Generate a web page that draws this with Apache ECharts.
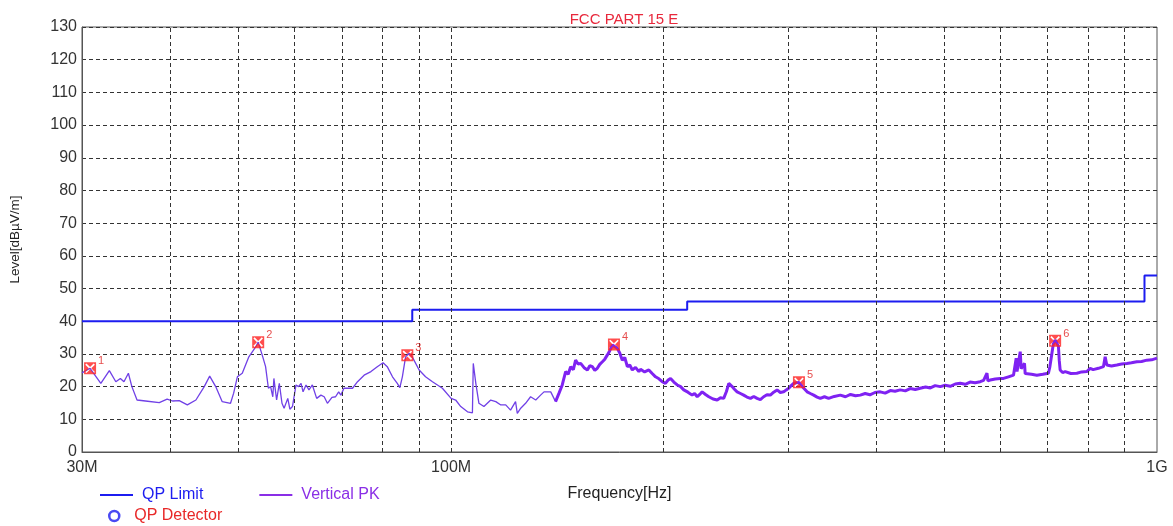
<!DOCTYPE html>
<html>
<head>
<meta charset="utf-8">
<title>FCC PART 15 E</title>
<script src="https://cdn.jsdelivr.net/npm/echarts/dist/echarts.min.js"></script>
<style>
  html, body { margin: 0; padding: 0; background: #fff; }
  #chart { width: 1173px; height: 526px; }
</style>
</head>
<body>
<div id="chart"></div>
<script>
// QP limit (MHz / dBuV/m), stepped
var limitFreq = [30, 88.1, 88.1, 216, 216, 960, 960, 1000]
var limitLevel = [40, 40, 43.5, 43.5, 46, 46, 54, 54]

// vertical peak trace, 30M - 140M (clean part)
var lowFreq = [30.0, 30.8, 31.9, 32.8, 33.5, 34.0, 34.4, 34.9, 35.3, 35.9, 36.9, 38.6, 39.6, 40.3, 41.2, 42.3,
  43.5, 44.7, 45.5, 46.4, 47.4, 48.7, 49.2, 49.8, 50.6, 51.7, 52.9, 53.3, 53.5, 54.1, 54.6, 55.1, 55.5, 55.9,
  56.1, 56.6, 57.1, 57.6, 58.0, 58.7, 59.1, 59.6, 59.9, 60.3, 60.8, 61.3, 61.7, 62.3, 62.9, 63.6, 64.5, 65.4,
  66.1, 66.8, 67.8, 68.6, 69.3, 69.8, 70.5, 72.5, 73.7, 75.3, 77.0, 78.6, 80.1, 81.2, 82.6, 83.9, 84.6, 85.3,
  86.2, 86.7, 87.2, 88.1, 90.1, 92.0, 94.1, 97.2, 100.0, 101.5, 103.2, 105.5, 107.2, 107.5, 108.4, 109.5,
  111.3, 113.8, 115.7, 117.6, 119.5, 121.4, 123.4, 124.1, 125.5, 127.5, 129.6, 131.8, 133.9, 135.4, 138.4, 140.6]
var lowLevel = [24.2, 25.6, 21.0, 24.9, 21.5, 22.5, 21.5, 24.1, 20.0, 15.9, 15.6, 15.1, 16.2, 15.6, 15.7, 14.4,
  15.9, 20.0, 23.2, 20.0, 15.4, 14.9, 18.0, 23.0, 24.1, 29.1, 32.2, 33.6, 33.2, 29.1, 26.1, 19.5, 20.0, 16.9,
  22.5, 15.9, 21.0, 14.9, 13.4, 16.4, 13.1, 13.9, 13.4, 20.5, 20.0, 21.0, 18.4, 20.5, 19.0, 20.5, 16.4, 17.4,
  16.9, 14.9, 16.7, 16.9, 18.4, 17.4, 19.5, 19.5, 21.5, 23.5, 24.6, 26.1, 27.3, 26.1, 23.0, 21.0, 19.7, 23.0,
  29.1, 29.6, 30.2, 29.1, 25.1, 23.0, 21.5, 19.5, 16.4, 15.9, 13.9, 12.3, 12.0, 27.1, 21.0, 14.9,
  13.9, 15.9, 15.4, 14.4, 14.4, 12.8, 15.4, 11.8, 13.4, 14.9, 16.9, 15.9, 17.4, 18.4, 18.4, 15.4]

// vertical peak trace, 140M - 1G (noisy part)
var highFreq = [140.6, 142.2, 143.7, 145.3, 146.5, 147.7, 149.0, 150.1, 151.3, 152.6, 154.3, 156.0, 157.2, 158.5,
  159.8, 161.1, 162.4, 163.8, 165.1, 166.5, 167.8, 169.2, 170.1, 172.0, 173.4, 174.8, 176.2, 177.7, 179.1, 180.6,
  182.5, 184.5, 185.5, 188.0, 190.6, 192.7, 194.8, 197.0, 199.1, 201.2, 203.0, 204.6, 206.8, 209.1, 211.4, 213.6,
  216.5, 219.5, 221.3, 223.2, 225.0, 226.8, 229.3, 231.8, 235.0, 238.2, 240.8, 243.3, 245.5, 247.4, 250.1, 252.0,
  254.2, 257.0, 259.7, 262.5, 265.5, 268.4, 271.3, 274.2, 277.2, 280.2, 283.3, 286.4, 289.6, 292.7, 295.9, 298.4,
  300.8, 303.2, 305.7, 311.0, 312.5, 316.0, 319.4, 322.8, 326.3, 330.0, 333.5, 338.0, 342.6, 349.0, 356.0, 362.0,
  368.0, 374.0, 379.9, 386.0, 392.0, 398.5, 405.5, 412.0, 419.0, 425.5, 432.8, 440.0, 447.0, 454.5, 461.9, 470.0,
  477.5, 485.0, 493.1, 501.0, 509.5, 517.8, 526.4, 535.0, 543.5, 552.5, 561.8, 568.0, 574.3, 576.0, 580.4, 590.0,
  599.7, 606.1, 616.0, 626.2, 629.0, 631.7, 633.5, 636.5, 640.1, 642.0, 644.8, 649.1, 650.5, 652.7, 664.0, 675.8,
  689.0, 701.8, 705.0, 709.8, 713.0, 717.3, 721.0, 725.1, 727.0, 729.1, 735.0, 741.2, 755.0, 769.9, 782.0, 795.4,
  804.1, 812.0, 826.0, 839.7, 844.4, 849.0, 862.0, 877.3, 891.0, 906.2, 920.0, 936.3, 951.0, 967.2, 983.0, 1000]
var highLevel = [15.4, 18.0, 20.5, 24.6, 23.8, 26.1, 25.2, 28.1, 26.9, 27.1, 25.8, 25.1, 26.4, 26.1,
  25.0, 25.6, 26.8, 27.6, 28.4, 29.7, 31.0, 32.7, 33.0, 31.7, 30.2, 28.1, 28.9, 26.1, 26.6, 25.1,
  25.9, 24.6, 25.3, 24.5, 25.1, 24.0, 23.0, 22.4, 21.5, 21.0, 22.0, 22.5, 21.4, 20.5, 20.0, 19.0,
  18.3, 17.4, 17.9, 16.9, 17.6, 18.4, 17.6, 16.9, 16.2, 15.9, 16.6, 16.4, 18.5, 21.0, 20.0, 19.2,
  18.4, 17.9, 17.4, 16.8, 16.4, 17.0, 16.4, 16.0, 16.9, 17.5, 17.4, 18.3, 19.0, 18.2, 18.4, 19.0,
  19.5, 20.3, 21.0, 21.3, 21.0, 19.5, 18.4, 17.9, 17.4, 16.8, 16.4, 16.9, 16.4, 17.0, 17.4, 16.9,
  17.6, 17.2, 17.4, 17.9, 17.5, 18.2, 18.4, 18.0, 18.8, 18.6, 19.0, 18.7, 19.4, 19.1, 19.5, 19.9,
  19.6, 20.3, 20.0, 20.4, 20.1, 20.8, 21.0, 20.7, 21.4, 21.2, 21.5, 21.9, 24.1, 21.8, 22.0, 22.3,
  22.5, 22.5, 23.0, 23.5, 24.0, 28.7, 24.6, 24.1, 30.7, 25.5, 25.1, 27.1, 24.0, 23.5, 23.8, 23.5,
  23.8, 24.1, 26.0, 30.2, 33.0, 34.2, 33.5, 32.2, 28.0, 25.1, 24.3, 24.6, 24.0, 24.1, 24.5, 24.6,
  25.6, 25.2, 25.6, 26.1, 29.1, 26.6, 26.3, 26.6, 26.9, 27.1, 27.3, 27.6, 27.7, 28.1, 28.2, 28.7]

// marked peaks
var peakFreq = [30.8, 53.3, 86.7, 170.1, 311.0, 717.3]
var peakLevel = [25.6, 33.6, 29.6, 32.9, 21.3, 34.0]
var peakNo = ['1', '2', '3', '4', '5', '6']

// vertical grid lines and axis labels
var gridFreqs = [40, 50, 60, 70, 80, 90, 100, 200, 300, 400, 500, 600, 700, 800, 900]
var xLabels = { 30: '30M', 100: '100M', 1000: '1G' }

function zip(a, b) {
  var out = []
  a.forEach(function (v, i) { out.push([v, b[i]]) })
  return out
}

var chart = echarts.init(document.getElementById('chart'))

var fontFam = 'Liberation Sans, Arial, sans-serif'
var gridStyle = { color: '#333', type: [4, 3], width: 1 }
// red square marker with an x cut into it
var xMark = 'path://M0,0 H10 V10 H0 Z M2,1 L1,2 L4,5 L1,8 L2,9 L5,6 L8,9 L9,8 L6,5 L9,2 L8,1 L5,4 Z'

var option = {
  animation: false,
  textStyle: { fontFamily: fontFam },
  title: {
    text: 'FCC PART 15 E',
    left: 619,
    textAlign: 'center',
    top: 7,
    textStyle: { color: '#e8283c', fontSize: 15, fontWeight: 'normal', fontFamily: fontFam }
  },
  grid: {
    left: 81,
    right: 16,
    top: 27,
    bottom: 74,
    show: true,
    borderColor: '#555',
    borderWidth: 1
  },
  legend: [
    {
      left: 100,
      top: 487,
      padding: 0,
      itemWidth: 33,
      itemHeight: 2,
      itemGap: 56,
      icon: 'rect',
      textStyle: { fontSize: 16, fontFamily: fontFam, padding: [0, 0, 0, 4] },
      data: [
        { name: 'QP Limit', textStyle: { color: '#1c1cf0' } },
        { name: 'Vertical PK', textStyle: { color: '#8a2ee6' } }
      ]
    },
    {
      left: 108,
      top: 508,
      padding: 0,
      itemWidth: 10,
      itemHeight: 10,
      textStyle: { fontSize: 16, fontFamily: fontFam, padding: [0, 0, 0, 10] },
      data: [
        {
          name: 'QP Detector',
          icon: 'circle',
          itemStyle: { color: '#fff', borderColor: '#1c1cf0', borderWidth: 2.5 },
          textStyle: { color: '#e82828' }
        }
      ]
    }
  ],
  xAxis: {
    type: 'log',
    logBase: 10,
    min: 30,
    max: 1000,
    name: 'Frequency[Hz]',
    nameLocation: 'middle',
    nameGap: 34,
    nameTextStyle: { color: '#222', fontSize: 16, fontFamily: fontFam },
    axisLine: { lineStyle: { color: '#555' } },
    axisTick: { show: false },
    splitLine: { show: false },
    axisLabel: {
      color: '#333',
      fontSize: 16,
      margin: 8,
      showMinLabel: true,
      showMaxLabel: true,
      formatter: function (v) {
        return xLabels[Math.round(v)] || ''
      }
    }
  },
  yAxis: {
    type: 'value',
    min: 0,
    max: 130,
    interval: 10,
    name: 'Level[dB\u00b5V/m]',
    nameLocation: 'middle',
    nameGap: 60,
    nameTextStyle: { color: '#222', fontSize: 13.5, fontFamily: fontFam },
    axisLine: { show: true, lineStyle: { color: '#555' } },
    axisTick: { show: false },
    axisLabel: { color: '#333', fontSize: 16, margin: 5 },
    splitLine: { show: true, lineStyle: gridStyle }
  },
  series: [
    {
      name: 'QP Limit',
      type: 'line',
      data: zip(limitFreq, limitLevel),
      showSymbol: false,
      color: '#1c1cf0',
      lineStyle: { color: '#1c1cf0', width: 2 },
      z: 3,
      markLine: {
        silent: true,
        symbol: 'none',
        label: { show: false },
        lineStyle: gridStyle,
        data: gridFreqs.map(function (f) { return { xAxis: f } })
      }
    },
    {
      name: 'Vertical PK',
      type: 'line',
      data: zip(lowFreq, lowLevel),
      showSymbol: false,
      color: '#8a2ee6',
      lineStyle: { color: '#7040e6', width: 1.3 },
      z: 4
    },
    {
      name: 'Vertical PK',
      type: 'line',
      data: zip(highFreq, highLevel),
      showSymbol: false,
      color: '#8a2ee6',
      lineStyle: { color: '#7f22f2', width: 3 },
      z: 4
    },
    {
      name: 'QP Detector',
      type: 'scatter',
      data: [],
      symbol: 'emptyCircle',
      color: '#1c1cf0'
    },
    {
      name: 'markers',
      type: 'scatter',
      data: peakFreq.map(function (f, i) { return [f, peakLevel[i], peakNo[i]] }),
      symbol: xMark,
      symbolSize: 12,
      itemStyle: { color: '#ff2020' },
      z: 6,
      label: {
        show: true,
        position: 'right',
        offset: [0, -7],
        distance: 2,
        color: '#e02020',
        fontSize: 11,
        formatter: function (p) { return p.data[2] }
      }
    }
  ]
}

chart.setOption(option)
window.addEventListener('resize', function () { chart.resize() })
</script>
</body>
</html>
